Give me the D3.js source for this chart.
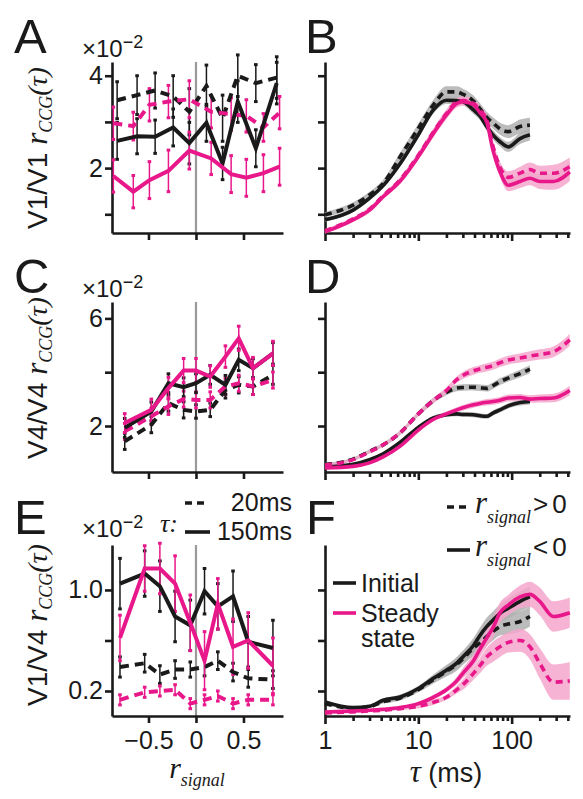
<!DOCTYPE html>
<html><head><meta charset="utf-8">
<script src="https://cdn.jsdelivr.net/npm/d3@7"></script>
<style>
body{margin:0;background:#fff}
text{font-family:"Liberation Sans",Arial,sans-serif;fill:#1a1a1a}
.ser{font-family:"Liberation Serif","Times New Roman",serif;font-style:italic}
</style>
</head><body>
<svg id="fig" width="583" height="799"></svg>
<script>
// ---------- DATA ----------
// left column: r_signal bin centres
const rSigA_init = [-0.83,-0.62,-0.43,-0.24,-0.07,0.11,0.28,0.44,0.63,0.85];
const rSigA_ss   = [-0.87,-0.66,-0.49,-0.29,-0.07,0.16,0.37,0.53,0.71,0.88];
const rSigC      = [-0.75,-0.47,-0.29,-0.13,0.0,0.15,0.31,0.45,0.6,0.81];
const rSigE      = [-0.8,-0.54,-0.38,-0.22,-0.06,0.09,0.23,0.39,0.55,0.81];

// A: V1/V1 (x10^-2)
const A_init20  = [3.47,3.58,3.68,3.55,3.22,3.78,3.08,4.00,3.84,3.96];
const A_init150 = [2.59,2.69,2.68,2.88,2.54,2.98,2.10,3.44,2.43,3.84];
const A_ss20    = [2.97,2.91,3.37,3.44,3.49,3.22,3.17,3.13,2.88,3.20];
const A_ss150   = [1.83,1.49,1.74,1.94,2.38,2.21,1.87,1.79,1.89,2.03];
const A_init20_err  = [0.40,0.42,0.38,0.45,0.50,0.45,0.50,0.45,0.40,0.45];
const A_init150_err = [0.40,0.38,0.36,0.40,0.45,0.40,0.35,0.45,0.40,0.45];
const A_ss20_err    = [0.35,0.30,0.35,0.35,0.40,0.35,0.35,0.35,0.30,0.35];
const A_ss150_err   = [0.35,0.35,0.40,0.45,0.40,0.35,0.40,0.40,0.40,0.40];

// C: V4/V4 (x10^-2)
const C_init20  = [1.43,2.05,2.85,2.60,2.54,2.60,3.34,3.53,3.47,3.90];
const C_init150 = [1.93,2.54,3.59,3.44,3.59,3.90,3.53,4.46,4.15,4.70];
const C_ss20    = [1.80,2.36,2.73,3.00,2.97,2.97,3.47,3.59,3.47,3.71];
const C_ss150   = [2.11,2.60,3.41,4.06,4.06,3.84,4.58,5.26,4.15,4.70];
const C_init20_err  = [0.30,0.30,0.30,0.30,0.25,0.25,0.30,0.30,0.30,0.35];
const C_init150_err = [0.35,0.35,0.35,0.35,0.35,0.35,0.35,0.40,0.35,0.40];
const C_ss20_err    = [0.30,0.30,0.30,0.30,0.30,0.30,0.30,0.30,0.30,0.30];
const C_ss150_err   = [0.35,0.40,0.40,0.45,0.45,0.40,0.40,0.45,0.40,0.45];

// E: V1/V4 (x10^-2)
const E_init20  = [0.39,0.42,0.33,0.37,0.37,0.39,0.44,0.35,0.30,0.29];
const E_init150 = [1.05,1.13,1.03,0.79,0.72,0.99,0.87,0.95,0.59,0.54];
const E_ss20    = [0.13,0.19,0.20,0.21,0.10,0.13,0.16,0.10,0.13,0.13];
const E_ss150   = [0.62,1.17,1.17,1.05,0.74,0.44,0.89,0.55,0.60,0.40];
const E_init20_err  = [0.08,0.07,0.07,0.07,0.06,0.07,0.07,0.07,0.07,0.07];
const E_init150_err = [0.20,0.18,0.20,0.20,0.20,0.18,0.18,0.20,0.20,0.22];
const E_ss20_err    = [0.04,0.04,0.04,0.04,0.04,0.04,0.04,0.04,0.04,0.04];
const E_ss150_err   = [0.18,0.18,0.20,0.22,0.22,0.23,0.20,0.22,0.22,0.22];

// right column: tau (ms)
const tau = [1,2,3,4.2,6.4,10,14.5,20,25.8,30,39,45.7,54,63,75,92,123,157,200,280,420];

// B: V1/V1
const B_initPos = [0.99,1.20,1.42,1.67,2.25,2.86,3.37,3.65,3.65,3.60,3.45,3.29,3.10,2.98,2.85,2.79,2.90,2.93];
const B_initNeg = [0.88,1.09,1.35,1.62,2.10,2.72,3.26,3.47,3.46,3.44,3.26,3.13,2.90,2.72,2.57,2.46,2.64,2.72];
const B_ssPos   = [0.64,0.90,1.11,1.40,1.75,2.28,2.78,3.18,3.43,3.46,3.40,3.25,3.05,2.48,2.02,1.80,1.89,1.97,1.89,1.89,2.03];
const B_ssNeg   = [0.62,0.88,1.09,1.38,1.72,2.25,2.75,3.15,3.40,3.44,3.37,3.20,3.00,2.39,1.92,1.63,1.71,1.78,1.71,1.71,1.92];
const B_initPos_band = [0.06,0.06,0.07,0.08,0.09,0.10,0.11,0.12,0.12,0.12,0.12,0.12,0.12,0.12,0.13,0.14,0.15,0.16];
const B_initNeg_band = [0.04,0.04,0.05,0.05,0.06,0.07,0.08,0.08,0.08,0.08,0.09,0.09,0.09,0.10,0.10,0.11,0.12,0.12];
const B_ssPos_band   = [0.04,0.04,0.05,0.05,0.06,0.07,0.08,0.09,0.09,0.09,0.10,0.10,0.10,0.11,0.12,0.13,0.14,0.15,0.16,0.18,0.20];
const B_ssNeg_band   = [0.04,0.04,0.05,0.05,0.06,0.07,0.08,0.09,0.09,0.09,0.10,0.10,0.10,0.11,0.12,0.13,0.14,0.15,0.16,0.18,0.20];

// D: V4/V4
const D_initPos = [0.57,0.77,1.06,1.30,1.75,2.45,2.95,3.25,3.41,3.43,3.44,3.42,3.40,3.50,3.65,3.78,3.95,4.11];
const D_initNeg = [0.48,0.58,0.75,0.97,1.40,1.95,2.30,2.42,2.45,2.43,2.42,2.38,2.36,2.48,2.60,2.75,2.87,2.91];
const D_ssPos   = [0.55,0.75,1.04,1.30,1.75,2.45,2.95,3.32,3.72,3.88,4.05,4.12,4.18,4.24,4.35,4.45,4.53,4.60,4.66,4.76,5.20];
const D_ssNeg   = [0.44,0.50,0.63,0.85,1.25,1.85,2.25,2.45,2.60,2.68,2.79,2.84,2.88,2.91,2.96,3.04,3.06,3.00,3.02,3.04,3.32];
const D_initPos_band = [0.06,0.06,0.07,0.07,0.08,0.09,0.10,0.11,0.12,0.12,0.12,0.12,0.12,0.12,0.13,0.13,0.14,0.15];
const D_initNeg_band = [0.05,0.05,0.05,0.06,0.06,0.07,0.08,0.08,0.09,0.09,0.09,0.09,0.09,0.10,0.10,0.10,0.11,0.11];
const D_ssPos_band   = [0.05,0.05,0.06,0.06,0.07,0.08,0.10,0.11,0.12,0.13,0.14,0.14,0.15,0.15,0.16,0.16,0.17,0.18,0.19,0.20,0.22];
const D_ssNeg_band   = [0.04,0.04,0.05,0.05,0.06,0.07,0.08,0.09,0.10,0.10,0.11,0.11,0.12,0.12,0.12,0.13,0.13,0.14,0.15,0.16,0.18];

// F: V1/V4
const F_initPos = [0.100,0.065,0.075,0.115,0.145,0.21,0.29,0.355,0.41,0.455,0.54,0.58,0.63,0.67,0.71,0.73,0.75,0.79];
const F_initNeg = [0.113,0.068,0.079,0.127,0.153,0.22,0.30,0.365,0.42,0.47,0.56,0.64,0.71,0.76,0.815,0.855,0.91,0.947];
const F_ssPos   = [0.026,0.035,0.042,0.047,0.060,0.079,0.11,0.15,0.21,0.25,0.34,0.40,0.47,0.51,0.55,0.585,0.60,0.55,0.42,0.27,0.28];
const F_ssNeg   = [0.034,0.042,0.047,0.055,0.070,0.100,0.15,0.21,0.28,0.34,0.44,0.53,0.62,0.70,0.82,0.88,0.945,0.965,0.91,0.79,0.82];
const F_initPos_band = [0.01,0.01,0.01,0.015,0.02,0.02,0.03,0.04,0.05,0.05,0.06,0.06,0.07,0.07,0.07,0.08,0.08,0.08];
const F_initNeg_band = [0.01,0.01,0.01,0.015,0.02,0.02,0.03,0.04,0.05,0.05,0.06,0.06,0.07,0.07,0.07,0.08,0.08,0.08];
const F_ssPos_band   = [0.01,0.01,0.01,0.01,0.01,0.015,0.02,0.02,0.03,0.04,0.05,0.06,0.07,0.08,0.08,0.08,0.09,0.10,0.12,0.14,0.15];
const F_ssNeg_band   = [0.01,0.01,0.01,0.01,0.01,0.015,0.02,0.02,0.03,0.04,0.05,0.06,0.07,0.08,0.08,0.08,0.09,0.10,0.11,0.12,0.12];

// ---------- SETUP ----------
const PINK = "#e8178a", PINK_BAND = "#f5a6cb", BLACK = "#1a1a1a", GREY_BAND = "#b0b0b0";
const svg = d3.select("#fig");

const xL = d3.scaleLinear().domain([-0.884, 0.916]).range([112, 283]);
const xR = d3.scaleLog().domain([1, 422]).range([325, 570]);
const rows = [
  {y: d3.scaleLinear().domain([0.595, 4.297]).range([233, 62]), ticks: [1,2,3,4], labels: [2,4], fmt: d3.format("d")},
  {y: d3.scaleLinear().domain([0.29, 6.61]).range([472, 302]), ticks: [2,4,6], labels: [2,6], fmt: d3.format("d")},
  {y: d3.scaleLinear().domain([0.002, 1.356]).range([716, 545]), ticks: [0.2,0.6,1.0], labels: [0.2,1.0], fmt: d3.format(".1f")}
];

function styleAxis(g) {
  g.selectAll(".domain").attr("stroke", BLACK).attr("stroke-width", 2.6);
  g.selectAll(".tick line").attr("stroke", BLACK).attr("stroke-width", 2.6);
  g.selectAll(".tick text").attr("font-size", 25).attr("fill", BLACK)
    .attr("font-family", '"Liberation Sans",Arial,sans-serif');
}

function drawAxes(row, showX) {
  const y = row.y, [y1, y0] = y.range();
  // left: zero line
  svg.append("line").attr("x1", xL(0)).attr("x2", xL(0)).attr("y1", y0).attr("y2", y1)
    .attr("stroke", "#9a9a9a").attr("stroke-width", 2.2);
  [112, 325].forEach((x0, i) => {
    const ga = svg.append("g").attr("transform", `translate(${x0},0)`)
      .call(d3.axisLeft(y).tickValues(row.ticks).tickSize(7).tickSizeOuter(0).tickPadding(2)
        .tickFormat(d => (i === 0 && row.labels.includes(d)) ? row.fmt(d) : ""));
    styleAxis(ga);
  });
  const gx = svg.append("g").attr("transform", `translate(0,${y1})`)
    .call(d3.axisBottom(xL).tickValues([-0.5, 0, 0.5]).tickSize(7).tickSizeOuter(0).tickPadding(8)
      .tickFormat(d => showX ? (d === 0 ? "0" : d3.format(".1f")(d)) : ""));
  styleAxis(gx);
  const gr = svg.append("g").attr("transform", `translate(0,${y1})`)
    .call(d3.axisBottom(xR).tickValues([1, 10, 100]).tickSize(8).tickSizeOuter(0).tickPadding(7)
      .tickFormat(d => showX ? d3.format("d")(d) : ""));
  styleAxis(gr);
  const minors = [2,3,4,5,6,7,8,9,20,30,40,50,60,70,80,90,200,300,400];
  const gm = svg.append("g").attr("transform", `translate(0,${y1})`)
    .call(d3.axisBottom(xR).tickValues(minors).tickSize(5).tickSizeOuter(0).tickFormat(""));
  styleAxis(gm);
  gm.select(".domain").remove();
}

function errorPanel(y, series) {
  series.forEach(s => {
    const g = svg.append("g");
    s.x.forEach((xv, i) => {
      const cx = xL(xv), top = y(s.v[i] + s.e[i]), bot = y(s.v[i] - s.e[i]);
      g.append("line").attr("x1", cx).attr("x2", cx).attr("y1", top).attr("y2", bot)
        .attr("stroke", s.color).attr("stroke-width", 1.5);
      [top, bot].forEach(cy => g.append("rect").attr("x", cx - 1.8).attr("y", cy - 1.5)
        .attr("width", 3.6).attr("height", 3).attr("fill", s.color));
    });
  });
  series.forEach(s => {
    const line = d3.line().x((d, i) => xL(s.x[i])).y(d => y(d));
    svg.append("path").attr("d", line(s.v)).attr("fill", "none").attr("stroke", s.color)
      .attr("stroke-width", 4).attr("stroke-linejoin", "miter")
      .attr("stroke-dasharray", s.dashed ? "9,6" : null);
  });
}

function curvePanel(y, series) {
  series.forEach(s => {
    const area = d3.area().curve(d3.curveMonotoneX).x((d, i) => xR(tau[i]))
      .y0((d, i) => y(d - s.b[i])).y1((d, i) => y(d + s.b[i]));
    svg.append("path").attr("d", area(s.v)).attr("fill", s.band).attr("opacity", 0.85);
  });
  series.forEach(s => {
    const line = d3.line().curve(d3.curveMonotoneX).x((d, i) => xR(tau[i])).y(d => y(d));
    svg.append("path").attr("d", line(s.v)).attr("fill", "none").attr("stroke", s.color)
      .attr("stroke-width", 3.6).attr("stroke-dasharray", s.dashed ? "7,5" : null);
  });
}

// ---------- DRAW ----------
drawAxes(rows[0], false);
drawAxes(rows[1], false);
drawAxes(rows[2], true);

errorPanel(rows[0].y, [
  {x: rSigA_init, v: A_init20, e: A_init20_err, color: BLACK, dashed: true},
  {x: rSigA_ss, v: A_ss20, e: A_ss20_err, color: PINK, dashed: true},
  {x: rSigA_init, v: A_init150, e: A_init150_err, color: BLACK},
  {x: rSigA_ss, v: A_ss150, e: A_ss150_err, color: PINK}
]);
errorPanel(rows[1].y, [
  {x: rSigC, v: C_init20, e: C_init20_err, color: BLACK, dashed: true},
  {x: rSigC, v: C_ss20, e: C_ss20_err, color: PINK, dashed: true},
  {x: rSigC, v: C_init150, e: C_init150_err, color: BLACK},
  {x: rSigC, v: C_ss150, e: C_ss150_err, color: PINK}
]);
errorPanel(rows[2].y, [
  {x: rSigE, v: E_init20, e: E_init20_err, color: BLACK, dashed: true},
  {x: rSigE, v: E_ss20, e: E_ss20_err, color: PINK, dashed: true},
  {x: rSigE, v: E_init150, e: E_init150_err, color: BLACK},
  {x: rSigE, v: E_ss150, e: E_ss150_err, color: PINK}
]);

curvePanel(rows[0].y, [
  {v: B_initPos, b: B_initPos_band, color: BLACK, band: GREY_BAND, dashed: true},
  {v: B_initNeg, b: B_initNeg_band, color: BLACK, band: GREY_BAND},
  {v: B_ssPos, b: B_ssPos_band, color: PINK, band: PINK_BAND, dashed: true},
  {v: B_ssNeg, b: B_ssNeg_band, color: PINK, band: PINK_BAND}
]);
curvePanel(rows[1].y, [
  {v: D_initPos, b: D_initPos_band, color: BLACK, band: GREY_BAND, dashed: true},
  {v: D_initNeg, b: D_initNeg_band, color: BLACK, band: GREY_BAND},
  {v: D_ssPos, b: D_ssPos_band, color: PINK, band: PINK_BAND, dashed: true},
  {v: D_ssNeg, b: D_ssNeg_band, color: PINK, band: PINK_BAND}
]);
curvePanel(rows[2].y, [
  {v: F_initPos, b: F_initPos_band, color: BLACK, band: GREY_BAND, dashed: true},
  {v: F_initNeg, b: F_initNeg_band, color: BLACK, band: GREY_BAND},
  {v: F_ssPos, b: F_ssPos_band, color: PINK, band: PINK_BAND, dashed: true},
  {v: F_ssNeg, b: F_ssNeg_band, color: PINK, band: PINK_BAND}
]);

// ---------- TEXT ----------
const letters = [["A",14,53],["B",305,53],["C",14,293],["D",305,293],["E",14,534],["F",306,534]];
letters.forEach(([t, x, y]) => svg.append("text").attr("x", x).attr("y", y).attr("font-size", 49).text(t));

[57, 297, 537].forEach(y => {
  const t = svg.append("text").attr("x", 82).attr("y", y).attr("font-size", 24);
  t.append("tspan").text("×10");
  t.append("tspan").attr("font-size", 18).attr("dy", -9).text("−2");
});

[["V1/V1 ", 148], ["V4/V4 ", 378], ["V1/V4 ", 625]].forEach(([lab, cy]) => {
  const t = svg.append("text").attr("transform", `translate(47,${cy}) rotate(-90)`)
    .attr("text-anchor", "middle").attr("font-size", 28);
  t.append("tspan").text(lab);
  t.append("tspan").attr("class", "ser").attr("font-size", 31).text("r");
  t.append("tspan").attr("class", "ser").attr("font-size", 18).attr("dy", 5).text("CCG");
  t.append("tspan").attr("class", "ser").attr("font-size", 28).attr("dy", -5).attr("font-style", "normal").text("(");
  t.append("tspan").attr("class", "ser").attr("font-size", 28).text("τ");
  t.append("tspan").attr("class", "ser").attr("font-size", 28).attr("font-style", "normal").text(")");
});

// x labels
{
  const t = svg.append("text").attr("x", 197).attr("y", 778).attr("text-anchor", "middle");
  t.append("tspan").attr("class", "ser").attr("font-size", 30).text("r");
  t.append("tspan").attr("class", "ser").attr("font-size", 18).attr("dy", 8).text("signal");
  const t2 = svg.append("text").attr("x", 446).attr("y", 782).attr("text-anchor", "middle");
  t2.append("tspan").attr("class", "ser").attr("font-size", 31).text("τ");
  t2.append("tspan").attr("font-size", 27).text(" (ms)");
}

// tau legend (panel E)
svg.append("text").attr("class", "ser").attr("x", 160).attr("y", 532).attr("font-size", 26).text("τ:");
svg.append("line").attr("x1", 185).attr("x2", 207).attr("y1", 503).attr("y2", 503)
  .attr("stroke", BLACK).attr("stroke-width", 3.6).attr("stroke-dasharray", "7,5");
svg.append("text").attr("x", 292).attr("y", 511).attr("text-anchor", "end").attr("font-size", 25).text("20ms");
svg.append("line").attr("x1", 185).attr("x2", 210).attr("y1", 532).attr("y2", 532)
  .attr("stroke", BLACK).attr("stroke-width", 3.6);
svg.append("text").attr("x", 292).attr("y", 540).attr("text-anchor", "end").attr("font-size", 25).text("150ms");

// r_signal legend (panel F)
[[">", 507, true], ["<", 550, false]].forEach(([s, y, dashed]) => {
  svg.append("line").attr("x1", 447).attr("x2", 470).attr("y1", y).attr("y2", y)
    .attr("stroke", BLACK).attr("stroke-width", 3.6).attr("stroke-dasharray", dashed ? "7,5" : null);
  const t = svg.append("text").attr("x", 475).attr("y", y + 6);
  t.append("tspan").attr("class", "ser").attr("font-size", 31).text("r");
  t.append("tspan").attr("class", "ser").attr("font-size", 18).attr("dy", 10).text("signal");
  t.append("tspan").attr("font-size", 26).attr("dy", -10).attr("dx", 2).text(s);
  t.append("tspan").attr("font-size", 26).attr("dx", 4).text("0");
});

// condition legend (panel F)
[["Initial", 583, BLACK], ["Steady", 613, PINK]].forEach(([s, y, c]) => {
  svg.append("line").attr("x1", 333).attr("x2", 356).attr("y1", y).attr("y2", y)
    .attr("stroke", c).attr("stroke-width", 3.6);
  svg.append("text").attr("x", 361).attr("y", y + 9).attr("font-size", 25).text(s);
});
svg.append("text").attr("x", 361).attr("y", 647).attr("font-size", 25).text("state");
</script>
</body></html>
